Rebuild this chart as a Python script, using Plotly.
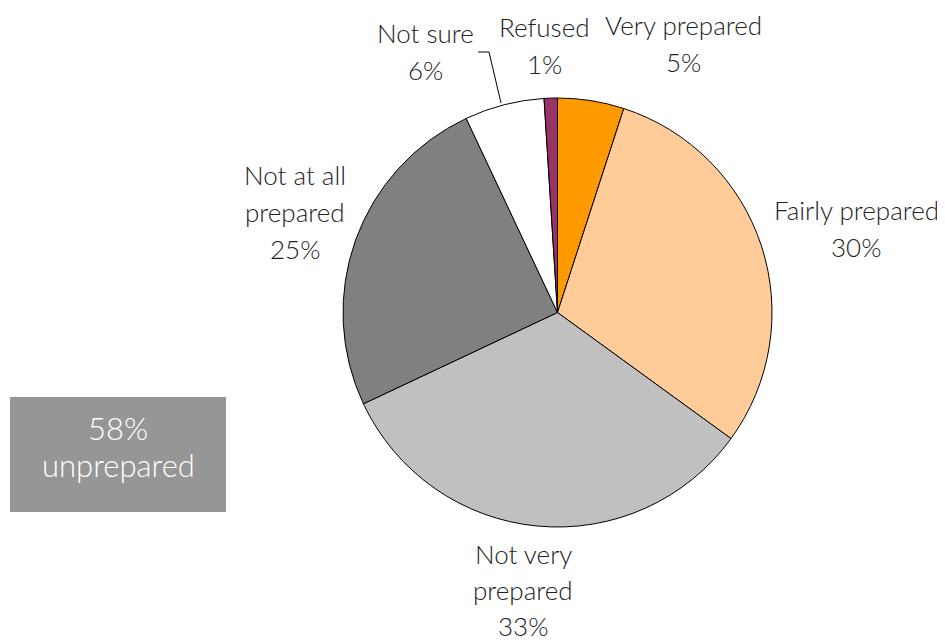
import plotly.graph_objects as go

categories = ["Very prepared", "Fairly prepared", "Not very prepared",
              "Not at all prepared", "Not sure", "Refused"]
values = [5, 30, 33, 25, 6, 1]
colors = ["#FF9900", "#FFCC99", "#C0C0C0", "#808080", "#FFFFFF", "#993366"]
# how each label is broken into lines on the chart
label_lines = [["Very prepared"], ["Fairly prepared"], ["Not very", "prepared"],
               ["Not at all", "prepared"], ["Not sure"], ["Refused"]]
callout_value = 58
callout_text = "unprepared"

W, H = 945, 642
OFF = 8  # page body margin offset


def px(x):
    return (x - OFF) / W


def py(y):
    return 1 - (y - OFF) / H


fig = go.Figure()
cx, cy, r = 557.5, 312.5, 214.5
fig.add_trace(go.Pie(
    labels=categories, values=values, sort=False, direction="clockwise",
    rotation=0, textinfo="none", hoverinfo="label+percent",
    marker=dict(colors=colors, line=dict(color="#000000", width=1)),
    domain=dict(x=[px(cx - r), px(cx + r)], y=[py(cy + r), py(cy - r)]),
    showlegend=False,
))

# label anchor positions (pixel centre x, top-line centre y)
label_pos = [(683, 25), (856, 210), (523, 554), (295, 175), (425, 33), (544, 27)]
line_gap = 37
FAM = "Lato, Open Sans, sans-serif"
font = dict(family=FAM, size=26, color="#222222", weight=300)
annotations = []
for lines, v, (lx, ly) in zip(label_lines, values, label_pos):
    gap = line_gap if len(lines) == 1 or ly < 500 else 36
    for i, t in enumerate(lines + [f"{v}%"]):
        annotations.append(dict(
            x=px(lx), y=py(ly + i * gap), xref="paper", yref="paper",
            text=t, showarrow=False, font=font, xanchor="center", yanchor="middle"))

box_font = dict(family=FAM, size=31, color="#FFFFFF", weight=300)
annotations.append(dict(x=px(118), y=py(428), xref="paper", yref="paper",
                        text=f"{callout_value}%", showarrow=False, font=box_font,
                        xanchor="center", yanchor="middle"))
annotations.append(dict(x=px(118), y=py(465), xref="paper", yref="paper",
                        text=callout_text, showarrow=False, font=box_font,
                        xanchor="center", yanchor="middle"))

shapes = [
    dict(type="rect", xref="paper", yref="paper",
         x0=px(10), x1=px(226), y0=py(512), y1=py(397),
         fillcolor="#969696", line=dict(width=0), layer="below"),
    dict(type="path", xref="paper", yref="paper",
         path=f"M {px(478)},{py(52)} L {px(489)},{py(52)} L {px(501)},{py(103)}",
         line=dict(color="#000000", width=1)),
]

fig.update_layout(width=W, height=H, margin=dict(l=0, r=0, t=0, b=0),
                  paper_bgcolor="white", plot_bgcolor="white",
                  annotations=annotations, shapes=shapes)
fig.write_html("out.html")
